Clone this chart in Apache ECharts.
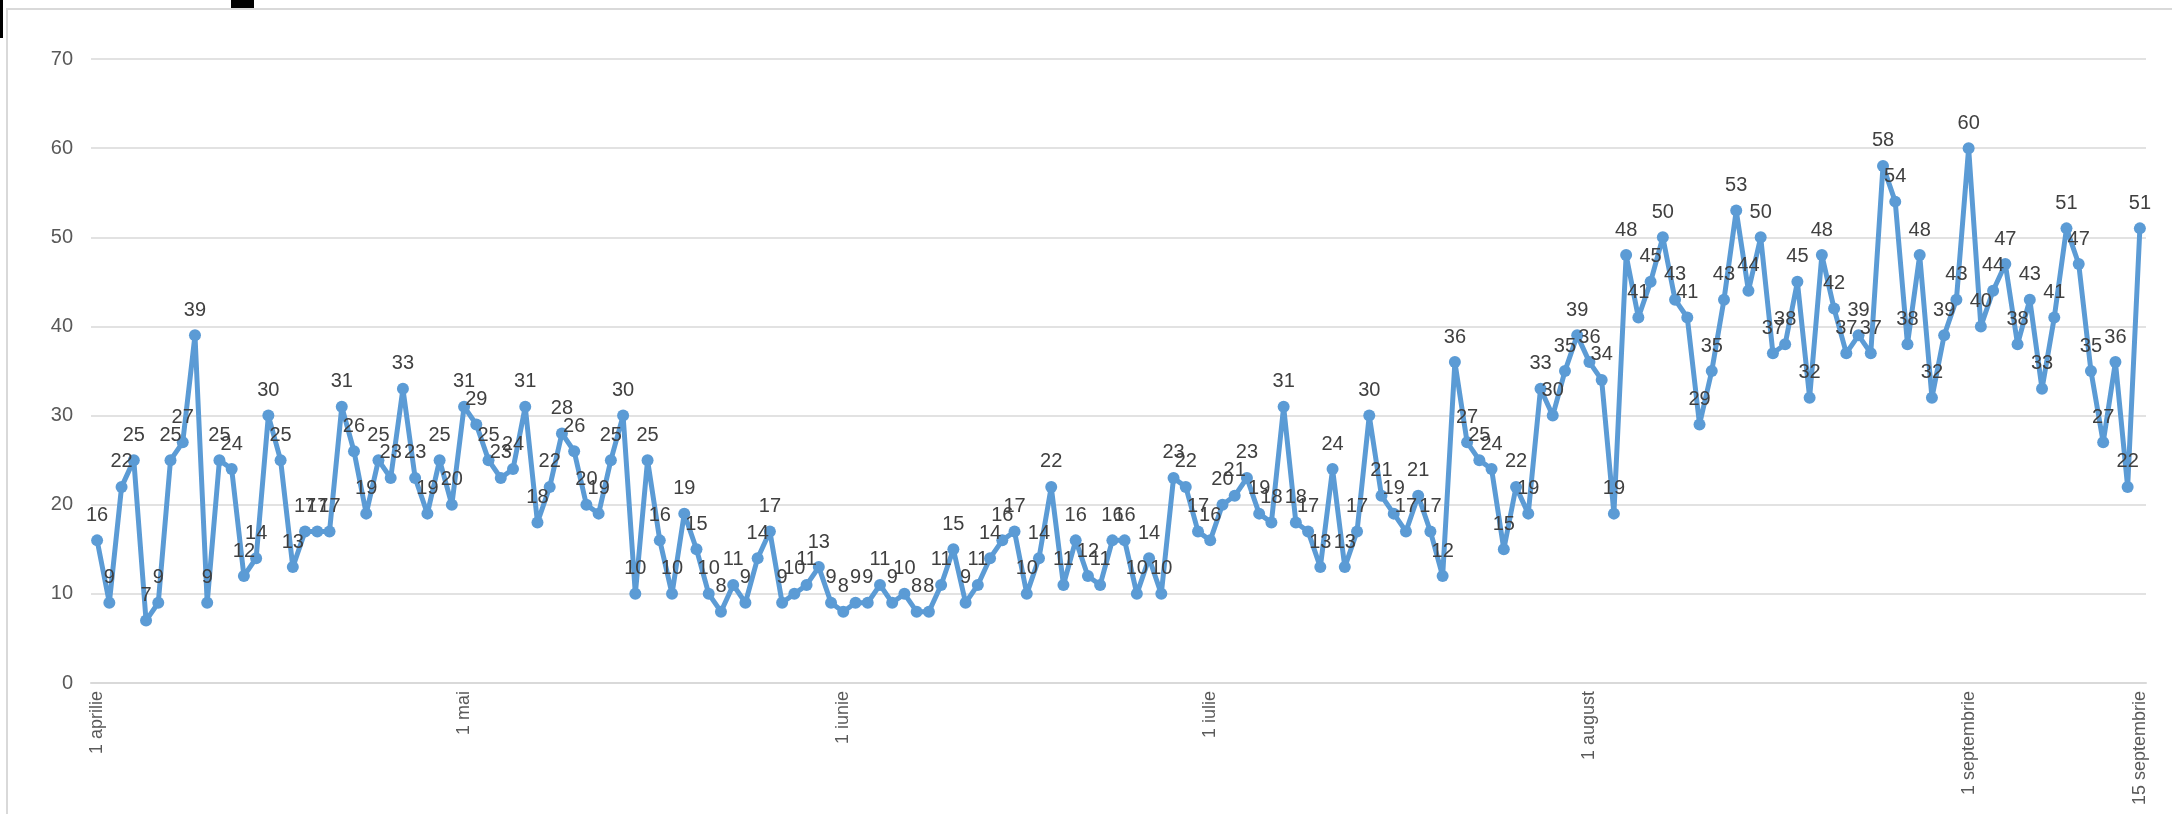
<!DOCTYPE html>
<html>
<head>
<meta charset="utf-8">
<script src="https://cdn.jsdelivr.net/npm/echarts@6/dist/echarts.min.js"></script>
<style>
html,body{margin:0;padding:0;background:#fff;}
#c{width:2172px;height:814px;}
</style>
</head>
<body>
<div id="c"></div>
<script>
const monthNames = ["aprilie", "mai", "iunie", "iulie", "august", "septembrie"];
const monthDays = [30, 31, 30, 31, 31, 15];

const aprilValues = [16, 9, 22, 25, 7, 9, 25, 27, 39, 9, 25, 24, 12, 14, 30, 25, 13, 17, 17, 17, 31, 26, 19, 25, 23, 33, 23, 19, 25, 20];
const mayValues = [31, 29, 25, 23, 24, 31, 18, 22, 28, 26, 20, 19, 25, 30, 10, 25, 16, 10, 19, 15, 10, 8, 11, 9, 14, 17, 9, 10, 11, 13, 9];
const juneValues = [8, 9, 9, 11, 9, 10, 8, 8, 11, 15, 9, 11, 14, 16, 17, 10, 14, 22, 11, 16, 12, 11, 16, 16, 10, 14, 10, 23, 22, 17];
const julyValues = [16, 20, 21, 23, 19, 18, 31, 18, 17, 13, 24, 13, 17, 30, 21, 19, 17, 21, 17, 12, 36, 27, 25, 24, 15, 22, 19, 33, 30, 35, 39];
const augustValues = [36, 34, 19, 48, 41, 45, 50, 43, 41, 29, 35, 43, 53, 44, 50, 37, 38, 45, 32, 48, 42, 37, 39, 37, 58, 54, 38, 48, 32, 39, 43];
const septemberValues = [60, 40, 44, 47, 38, 43, 33, 41, 51, 47, 35, 27, 36, 22, 51];

const shownTickLabels = ["1 aprilie", "1 mai", "1 iunie", "1 iulie", "1 august", "1 septembrie", "15 septembrie"];

const categories = [];
monthNames.forEach((m, i) => {
  for (let d = 1; d <= monthDays[i]; d++) categories.push(d + " " + m);
});
const values = [].concat(aprilValues, mayValues, juneValues, julyValues, augustValues, septemberValues);

const chart = echarts.init(document.getElementById('c'), null, {renderer: 'canvas'});
chart.setOption({
  animation: false,
  backgroundColor: '#ffffff',
  textStyle: {fontFamily: 'Liberation Sans, Arial, sans-serif'},
  graphic: [
    {type: 'rect', shape: {x: 7, y: 9, width: 2300, height: 900}, style: {fill: 'none', stroke: '#D9D9D9', lineWidth: 2}, silent: true},
    {type: 'rect', shape: {x: 0, y: 0, width: 3, height: 38}, style: {fill: '#000'}, silent: true},
    {type: 'rect', shape: {x: 231, y: 0, width: 23, height: 8}, style: {fill: '#000'}, silent: true}
  ],
  grid: {left: 91, right: 26, top: 59, bottom: 131, containLabel: false},
  xAxis: {
    type: 'category',
    data: categories,
    boundaryGap: true,
    axisLine: {lineStyle: {color: '#D9D9D9', width: 2}},
    axisTick: {show: false},
    axisLabel: {
      interval: function (idx, val) { return shownTickLabels.indexOf(val) >= 0; },
      rotate: 90,
      margin: 8,
      fontSize: 18,
      color: '#595959',
      fontFamily: 'Liberation Sans, Arial, sans-serif'
    },
    splitLine: {show: false}
  },
  yAxis: {
    type: 'value',
    min: 0,
    max: 70,
    interval: 10,
    axisLine: {show: false},
    axisTick: {show: false},
    axisLabel: {fontSize: 20, color: '#595959', margin: 18, fontFamily: 'Liberation Sans, Arial, sans-serif'},
    splitLine: {lineStyle: {color: '#D9D9D9', width: 1.5}}
  },
  series: [{
    type: 'line',
    data: values,
    symbol: 'circle',
    symbolSize: 12,
    showAllSymbol: true,
    lineStyle: {color: '#5B9BD5', width: 5},
    itemStyle: {color: '#5B9BD5'},
    label: {
      show: true,
      position: 'top',
      distance: 9,
      fontSize: 20,
      color: '#404040',
      fontFamily: 'Liberation Sans, Arial, sans-serif'
    },
    labelLayout: {hideOverlap: false}
  }]
});
</script>
</body>
</html>
